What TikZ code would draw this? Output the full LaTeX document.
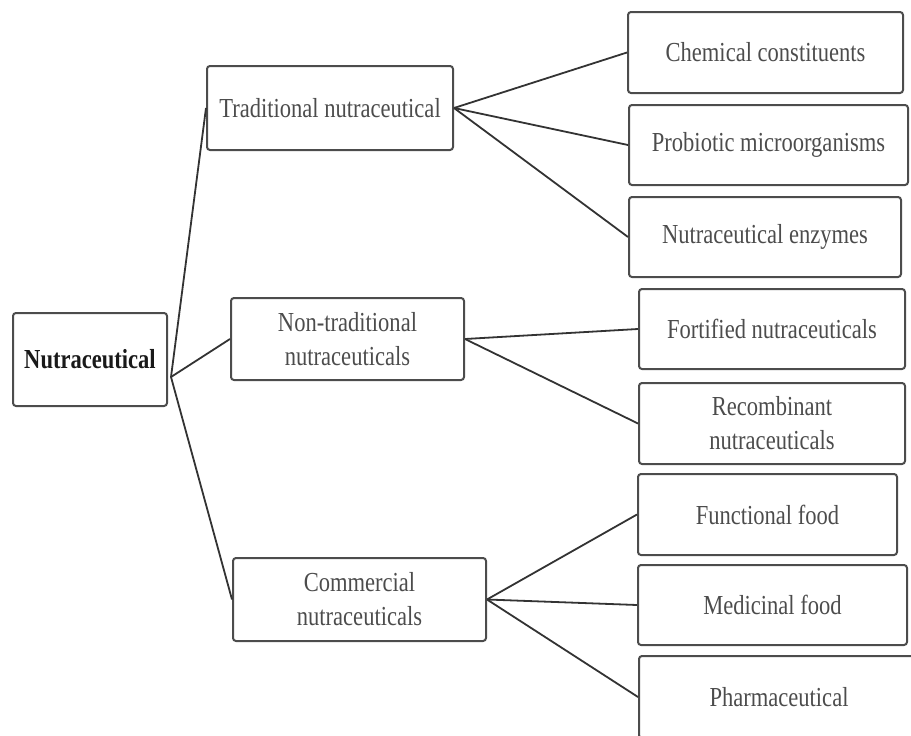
\documentclass[tikz,border=0pt]{standalone}
\usepackage{fontspec}
\setmainfont[FakeStretch=0.82]{Liberation Serif}
\usepackage{tikz}
\usetikzlibrary{calc}
\usetikzlibrary{positioning}

\begin{document}
\begin{tikzpicture}[x=1pt,y=-1pt,-,
                    box node/.style={rectangle,rounded corners=3pt,draw=black!70,line width=2pt,
                                     align=center,text=black!70,inner sep=0pt,
                                     font=\fontsize{27.5}{34}\selectfont,minimum height=81pt},
                    link/.style={draw=black!80,line width=1.8pt}]

  \useasboundingbox (0,0) rectangle (911,736);
  \clip (0,0) rectangle (911,736);

  \node[box node,minimum width=154pt,minimum height=93pt,font=\fontsize{27.5}{34}\selectfont\bfseries,text=black!90] (1) at (90,359.5) {Nutraceutical};

  \node[box node,minimum width=246pt,minimum height=84pt] (2) at (330,108) {Traditional nutraceutical};
  \node[box node,minimum width=233pt,minimum height=82pt] (3) at (347.5,339) {Non-traditional\\nutraceuticals};
  \node[box node,minimum width=253pt,minimum height=83pt] (4) at (359.5,599.5) {Commercial\\nutraceuticals};

  \node[box node,minimum width=275pt] (5) at (765.5,52.5) {Chemical constituents};
  \node[box node,minimum width=279pt,minimum height=80pt] (6) at (768.5,145) {Probiotic microorganisms};
  \node[box node,minimum width=272pt,minimum height=80pt] (7) at (765,237) {Nutraceutical enzymes};

  \node[box node,minimum width=266pt,minimum height=80pt] (8) at (772,329) {Fortified nutraceuticals};
  \node[box node,minimum width=266pt] (9) at (772,423.5) {Recombinant\\nutraceuticals};

  \node[box node,minimum width=259pt] (10) at (767.5,514.5) {Functional food};
  \node[box node,minimum width=269pt,minimum height=80pt] (11) at (772.5,605) {Medicinal food};
  \node[box node,minimum width=280pt,minimum height=82pt] (12) at (779,697) {Pharmaceutical};

  \coordinate (j) at ($(1.east)+(3,17.5)$);

  \path[every edge/.style={link}]
  (j) edge (2.west)
      edge (3.west)
      edge (4.west)
  (2.east) edge (5.west)
           edge (6.west)
           edge (7.west)
  (3.east) edge (8.west)
           edge (9.west)
  (4.east) edge (10.west)
           edge (11.west)
           edge (12.west);

\end{tikzpicture}
\end{document}
